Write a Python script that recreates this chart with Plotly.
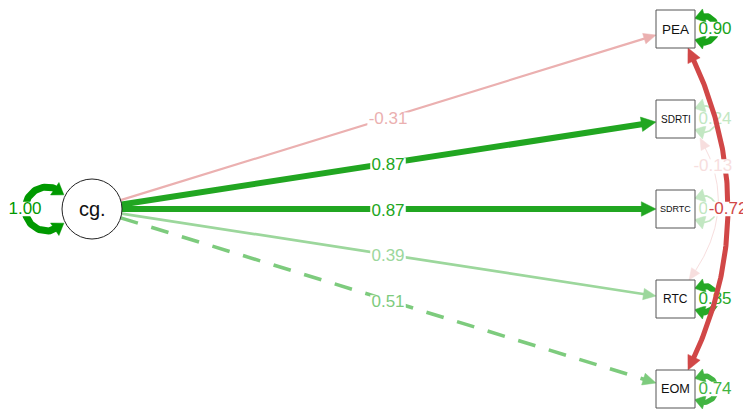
import numpy as np
import plotly.graph_objects as go

# ---------------- data ----------------
latent = ["cg."]
latent_variance = [1.00]
indicators = ["PEA", "SDRTI", "SDRTC", "RTC", "EOM"]
loadings = [-0.31, 0.87, 0.87, 0.39, 0.51]
residual_variances = [0.90, 0.24, 0.24, 0.85, 0.74]
cov_from = ["PEA", "SDRTI"]
cov_to = ["EOM", "RTC"]
cov_values = [-0.72, -0.13]

# ---------------- layout / style ----------------
W, H = 743, 409
LAT_C = np.array([92.0, 209.0])
LAT_RX, LAT_RY = 30.0, 30.0
BOX_X = 675.5
BOX_HX, BOX_HY = 19.5, 19.0
BOX_Y0, BOX_DY = 29.0, 90.0
LABEL_X = 388.0
DASHED = {"EOM"}
FONT = "Liberation Sans, Arial, sans-serif"
LBL_SIZE = 17
NODE_FONT = {"PEA": 13.5, "SDRTI": 10, "SDRTC": 9, "RTC": 12, "EOM": 12.7}
POS_BASE = (0, 153, 0)
NEG_BASE = (191, 0, 0)

box_c = {n: np.array([BOX_X, BOX_Y0 + i * BOX_DY]) for i, n in enumerate(indicators)}


def col(v):
    b = POS_BASE if v > 0 else NEG_BASE
    a = min(abs(v), 1.0)
    return "rgb(%d,%d,%d)" % tuple(round(c * a + 255 * (1 - a)) for c in b)


def wid(v):
    return max(1.0, 7.0 * abs(v))


traces = []


def add_line(pts, color, w, dash="solid"):
    pts = np.array(pts)
    traces.append(go.Scatter(x=pts[:, 0], y=pts[:, 1], mode="lines",
                             line=dict(color=color, width=w, dash=dash),
                             hoverinfo="skip", showlegend=False))


def add_poly(pts, color):
    pts = np.array(pts)
    traces.append(go.Scatter(x=list(pts[:, 0]) + [pts[0, 0]], y=list(pts[:, 1]) + [pts[0, 1]],
                             mode="lines", fill="toself", fillcolor=color,
                             line=dict(color=color, width=0.5),
                             hoverinfo="skip", showlegend=False))


def trim_end(pts, L):
    tip = pts[-1]
    for i in range(len(pts) - 2, -1, -1):
        d = tip - pts[i]
        n = np.hypot(*d)
        if n >= L:
            d = d / n
            base = tip - L * d
            return pts[:i + 1] + [base + 0.35 * L * d], tip, base, d
    d = tip - pts[0]
    d = d / np.hypot(*d)
    return [pts[0]], tip, tip - L * d, d


def path_with_heads(pts, color, w, L, Wd, dash="solid", start=True, end=True):
    pts = [np.array(p, dtype=float) for p in pts]
    heads = []
    if end:
        pts, tip, base, d = trim_end(pts, L)
        heads.append((tip, base, d))
    if start:
        rp = pts[::-1]
        rp, tip, base, d = trim_end(rp, L)
        pts = rp[::-1]
        heads.append((tip, base, d))
    add_line(pts, color, w, dash)
    for tip, base, d in heads:
        n = np.array([-d[1], d[0]])
        add_poly([tip, base + Wd * n, base - Wd * n], color)


CHW = {"-": 0.333, ".": 0.278}


def add_label(x, y, text, color, size=LBL_SIZE, bg=True):
    if bg:
        tw = sum(CHW.get(c, 0.556) for c in text) * size + 2
        th = 0.82 * size
        add_poly([[x - tw / 2, y - th / 2], [x + tw / 2, y - th / 2],
                  [x + tw / 2, y + th / 2], [x - tw / 2, y + th / 2]], "white")
    traces.append(go.Scatter(x=[x], y=[y + 0.5], mode="text", text=[text],
                             textposition="middle center",
                             textfont=dict(family=FONT, size=size, color=color),
                             hoverinfo="skip", showlegend=False))


def arc(cx, cy, r, a0, a1, n=80):
    a = np.radians(np.linspace(a0, a1, n))
    return [np.array([cx + r * np.cos(t), cy + r * np.sin(t)]) for t in a]


def bezier(p0, c, p2, n=120):
    t = np.linspace(0, 1, n)[:, None]
    p0, c, p2 = map(np.array, (p0, c, p2))
    return list((1 - t) ** 2 * p0 + 2 * t * (1 - t) * c + t ** 2 * p2)


# ---------------- latent variance loop ----------------
v = latent_variance[0]
path_with_heads(arc(LAT_C[0] - 45, LAT_C[1], 22, 40, 320), col(v), wid(v), 11, 7.5)
add_label(25, LAT_C[1], "%.2f" % v, col(v))

# ---------------- loadings ----------------
for name, lam in zip(indicators, loadings):
    bc = box_c[name]
    d = bc - LAT_C
    te = 1.0 / np.sqrt((d[0] / LAT_RX) ** 2 + (d[1] / LAT_RY) ** 2)
    start = LAT_C + te * d
    tb = min(BOX_HX / abs(d[0]), BOX_HY / abs(d[1]) if d[1] != 0 else 1e9)
    endp = bc - tb * d
    w = wid(lam)
    path_with_heads([start, endp], col(lam), w, 11 + 0.6 * w, 4.5 + 0.45 * w,
                    dash="18px,14px" if name in DASHED else "solid", start=False)
for name, lam in zip(indicators, loadings):
    bc = box_c[name]
    ly = LAT_C[1] + (LABEL_X - LAT_C[0]) / (bc[0] - LAT_C[0]) * (bc[1] - LAT_C[1])
    add_label(LABEL_X, ly + 2, "%.2f" % lam, col(lam))

# ---------------- residual loops ----------------
for name, rv in zip(indicators, residual_variances):
    bc = box_c[name]
    path_with_heads(arc(bc[0] + BOX_HX + 8, bc[1], 13.5, -128, 128), col(rv), wid(rv), 10, 7)
    add_label(715, bc[1], "%.2f" % rv, col(rv))

# ---------------- covariances ----------------
cov_geom = {("PEA", "EOM"): (12.5, 12.5, 768, 0.5),
            ("SDRTI", "RTC"): (24.5, 13.5, 741.5, 0.2)}
cov_labels = []
for a, b, cv in sorted(zip(cov_from, cov_to, cov_values), key=lambda z: abs(z[2])):
    dxa, dxb, cx, tl = cov_geom[(a, b)]
    pa = box_c[a] + np.array([dxa, BOX_HY])
    pb = box_c[b] + np.array([dxb, -BOX_HY])
    c = [cx, (pa[1] + pb[1]) / 2]
    pts = bezier(pa, c, pb)
    w = wid(cv)
    path_with_heads(pts, col(cv), w, 11 + 0.6 * w, 4.5 + 0.45 * w)
    lp = (1 - tl) ** 2 * pa + 2 * tl * (1 - tl) * np.array(c) + tl ** 2 * pb
    cov_labels.append((lp, cv))
for lp, cv in cov_labels:
    add_label(lp[0], lp[1], "%.2f" % cv, col(cv))

fig = go.Figure(traces)

# ---------------- nodes ----------------
shapes = [dict(type="circle", xref="x", yref="y",
               x0=LAT_C[0] - LAT_RX, x1=LAT_C[0] + LAT_RX,
               y0=LAT_C[1] - LAT_RY, y1=LAT_C[1] + LAT_RY,
               line=dict(color="#222", width=1), fillcolor="white", layer="above")]
annotations = [dict(x=LAT_C[0], y=LAT_C[1], text=latent[0], showarrow=False,
                    font=dict(family=FONT, size=20, color="#111"))]
for name in indicators:
    bc = box_c[name]
    shapes.append(dict(type="rect", xref="x", yref="y",
                       x0=bc[0] - BOX_HX, x1=bc[0] + BOX_HX,
                       y0=bc[1] - BOX_HY, y1=bc[1] + BOX_HY,
                       line=dict(color="#555", width=1), fillcolor="white", layer="above"))
    annotations.append(dict(x=bc[0], y=bc[1], text=name, showarrow=False,
                            font=dict(family=FONT, size=NODE_FONT[name], color="#111")))

fig.update_layout(
    width=W, height=H, autosize=False,
    margin=dict(l=0, r=0, t=0, b=0, pad=0),
    paper_bgcolor="white", plot_bgcolor="white",
    xaxis=dict(range=[0, W], visible=False, fixedrange=True),
    yaxis=dict(range=[H, 0], visible=False, fixedrange=True),
    shapes=shapes, annotations=annotations, showlegend=False,
)
fig.write_html("out.html", config={"displayModeBar": False})
